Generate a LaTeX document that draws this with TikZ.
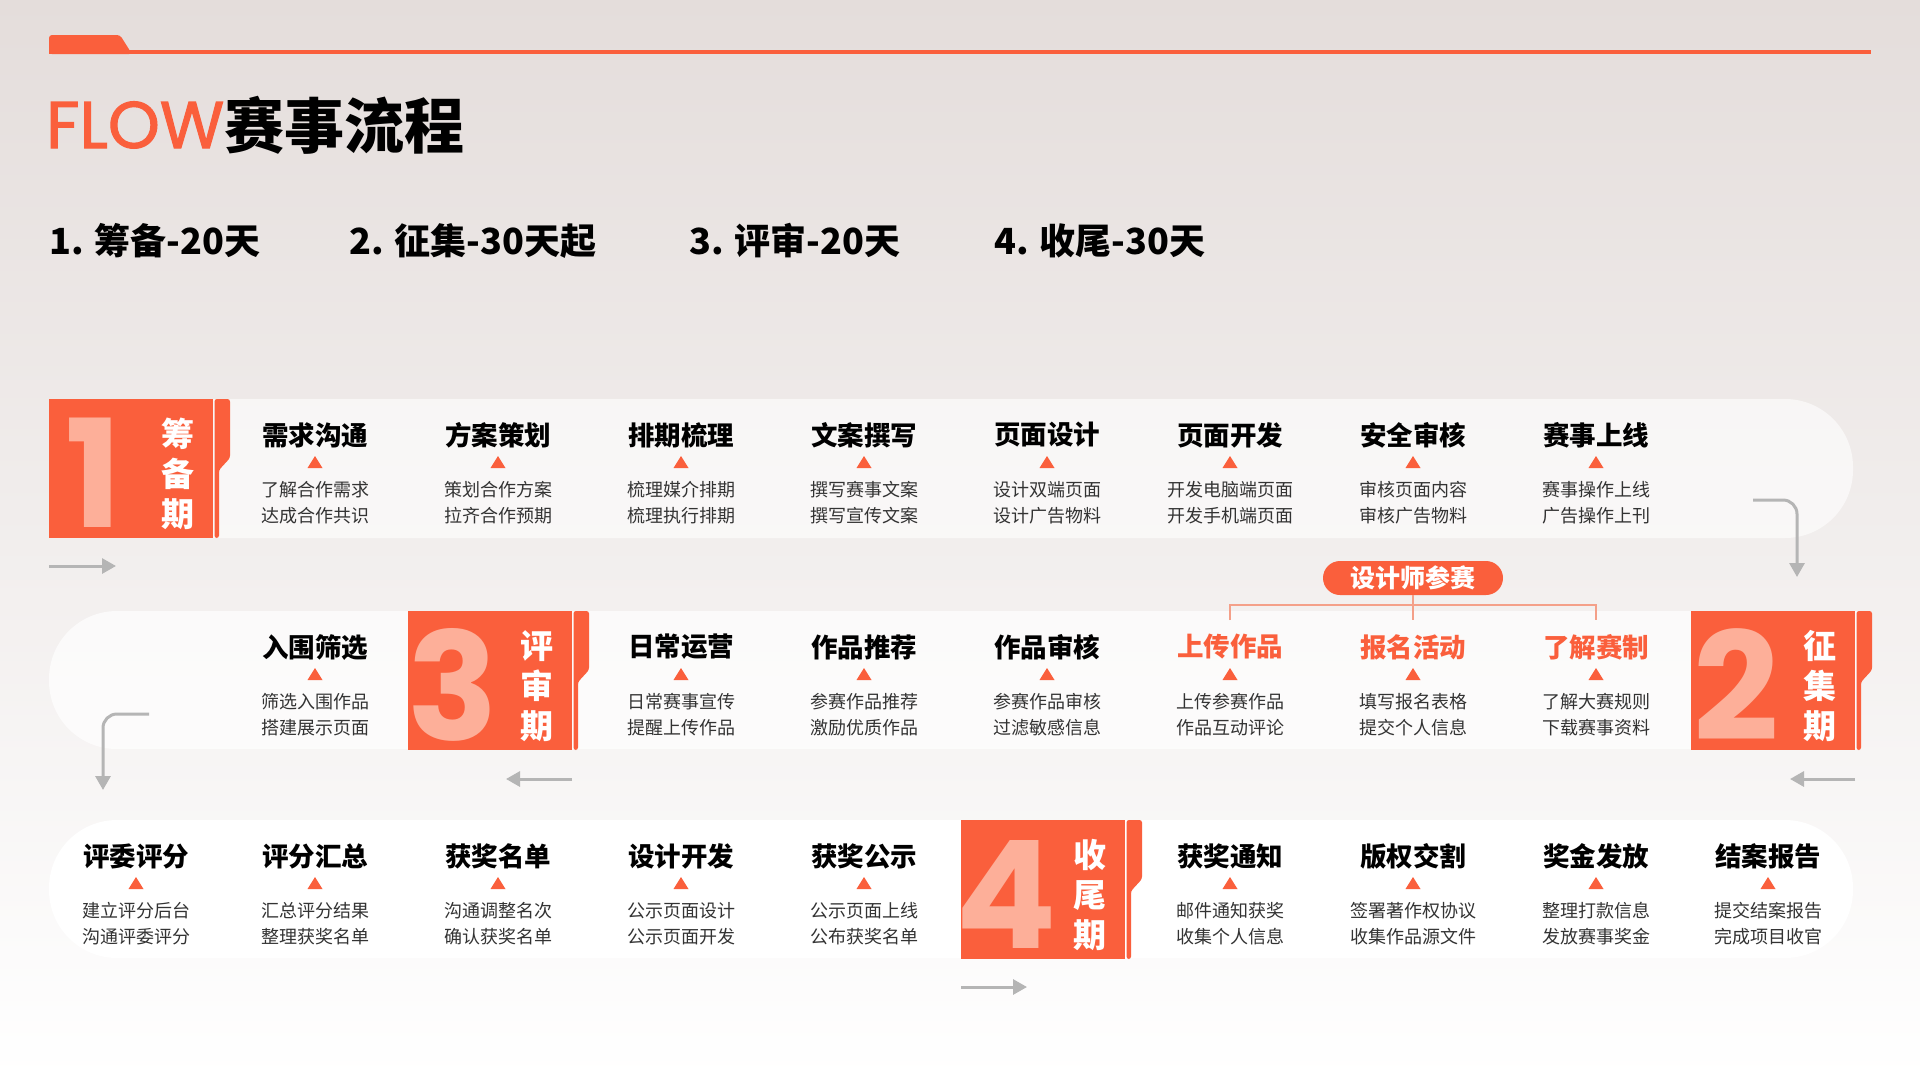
\documentclass[tikz,border=0pt]{standalone}
\usepackage{fontspec}
\setmainfont{Noto Sans CJK SC}
\newfontfamily\pop{Poppins}
\newfontfamily\popfb{Poppins}[FakeBold=1.6]
\usetikzlibrary{arrows.meta}
\definecolor{org}{HTML}{FA5F3C}
\definecolor{pale}{HTML}{FDAF99}
\definecolor{arrg}{HTML}{B5B5B5}
\definecolor{dsc}{HTML}{333333}
\definecolor{brk}{HTML}{F4A089}
\definecolor{bgtop}{HTML}{E4DDDB}
\definecolor{bgmid}{HTML}{EEEDED}
\tikzset{
  ttl/.style={inner sep=0pt, font=\bfseries\fontsize{26.5}{30}\selectfont},
  dtx/.style={inner sep=0pt, align=center, text=dsc, font=\fontsize{18}{26}\selectfont},
  num/.style={inner sep=0pt, text=pale, font=\pop\bfseries\fontsize{150}{150}\selectfont},
  vtx/.style={inner sep=0pt, align=center, text=white, font=\bfseries\fontsize{33}{40}\selectfont},
  arr/.style={draw=arrg, line width=3pt, -{Triangle[length=14pt,width=15pt]}},
  brkline/.style={draw=brk, line width=1.5pt},
  pill/.style={fill=org, text=white, rounded corners=17pt, minimum width=180pt, minimum height=34pt, inner sep=0pt, font=\bfseries\fontsize{25}{25}\selectfont},
  sub/.style={inner sep=0pt, anchor=base west, font=\bfseries\fontsize{36}{36}\selectfont}
}
% name, x, rowtop, title, d1, d2, colour
\newcommand\stepit[7]{%
  \node[ttl, text=#7] (#1) at (#2,#3+36) {#4};
  \fill[org] (#2-7.5,#3+69) -- (#2+7.5,#3+69) -- (#2,#3+57) -- cycle;
  \node[dtx] (#1d) at (#2,#3+103.5) {#5\\#6};
}
% name, x, y, numeral, vertical text
\newcommand\phasebox[5]{%
  \fill[org] (#2,#3) rectangle ++(164,139);
  \fill[org, rounded corners=2.5pt] (#2+165.5,#3) -- (#2+181,#3) -- (#2+181,#3+59) -- (#2+170,#3+71) -- (#2+170,#3+139) -- (#2+165.5,#3+139) -- cycle;
  \node[num] (#1n) at (#2+45,#3+74) {#4};
  \node[vtx] (#1v) at (#2+129,#3+75) {#5};
}
\begin{document}
\begin{tikzpicture}[x=1pt,y=-1pt]
\useasboundingbox (0,0) rectangle (1920,1080);
\shade[top color=bgtop, middle color=bgmid, bottom color=white] (0,0) rectangle (1920,1080);

% top bar
\fill[org] (49,50) rectangle (1871,54);
\fill[org, rounded corners=3pt] (49,54) -- (49,35) -- (120,35) -- (132,54) -- cycle;

% title
\node[inner sep=0pt, anchor=base west, text=org, font=\popfb\fontsize{66}{66}\selectfont] (flow) at (46,148) {FLOW};
\node[inner sep=0pt, anchor=base west, font=\bfseries\fontsize{60}{60}\selectfont] (title) at (flow.base east) {赛事流程};

% phases summary
\node[sub] (s1) at (49,254) {1. 筹备-20天};
\node[sub] (s2) at (349,254) {2. 征集-30天起};
\node[sub] (s3) at (689,254) {3. 评审-20天};
\node[sub] (s4) at (994,254) {4. 收尾-30天};

% bands
\fill[white, fill opacity=.6] (49,399) rectangle (300,538) [rounded corners=68pt] (120,399) rectangle (1853,538);
\fill[white, fill opacity=.7] (1700,611) rectangle (1860,749) [rounded corners=68pt] (49,611) rectangle (1860,749);
\fill[white] (49,820) [rounded corners=68pt] rectangle (1853,958);

% phase blocks
\phasebox{p1}{49}{399}{1}{筹\\备\\期}
\phasebox{p3}{408}{611}{3}{评\\审\\期}
\phasebox{p2}{1691}{611}{2}{征\\集\\期}
\phasebox{p4}{961}{820}{4}{收\\尾\\期}

% row 1
\stepit{a1}{315}{399}{需求沟通}{了解合作需求}{达成合作共识}{black}
\stepit{a2}{498}{399}{方案策划}{策划合作方案}{拉齐合作预期}{black}
\stepit{a3}{681}{399}{排期梳理}{梳理媒介排期}{梳理执行排期}{black}
\stepit{a4}{864}{399}{文案撰写}{撰写赛事文案}{撰写宣传文案}{black}
\stepit{a5}{1047}{399}{页面设计}{设计双端页面}{设计广告物料}{black}
\stepit{a6}{1230}{399}{页面开发}{开发电脑端页面}{开发手机端页面}{black}
\stepit{a7}{1413}{399}{安全审核}{审核页面内容}{审核广告物料}{black}
\stepit{a8}{1596}{399}{赛事上线}{赛事操作上线}{广告操作上刊}{black}

% row 2
\stepit{b1}{315}{611}{入围筛选}{筛选入围作品}{搭建展示页面}{black}
\stepit{b2}{681}{611}{日常运营}{日常赛事宣传}{提醒上传作品}{black}
\stepit{b3}{864}{611}{作品推荐}{参赛作品推荐}{激励优质作品}{black}
\stepit{b4}{1047}{611}{作品审核}{参赛作品审核}{过滤敏感信息}{black}
\stepit{b5}{1230}{611}{上传作品}{上传参赛作品}{作品互动评论}{org}
\stepit{b6}{1413}{611}{报名活动}{填写报名表格}{提交个人信息}{org}
\stepit{b7}{1596}{611}{了解赛制}{了解大赛规则}{下载赛事资料}{org}

% row 3
\stepit{c1}{136}{820}{评委评分}{建立评分后台}{沟通评委评分}{black}
\stepit{c2}{315}{820}{评分汇总}{汇总评分结果}{整理获奖名单}{black}
\stepit{c3}{498}{820}{获奖名单}{沟通调整名次}{确认获奖名单}{black}
\stepit{c4}{681}{820}{设计开发}{公示页面设计}{公示页面开发}{black}
\stepit{c5}{864}{820}{获奖公示}{公示页面上线}{公布获奖名单}{black}
\stepit{c6}{1230}{820}{获奖通知}{邮件通知获奖}{收集个人信息}{black}
\stepit{c7}{1413}{820}{版权交割}{签署著作权协议}{收集作品源文件}{black}
\stepit{c8}{1596}{820}{奖金发放}{整理打款信息}{发放赛事奖金}{black}
\stepit{c9}{1768}{820}{结案报告}{提交结案报告}{完成项目收官}{black}

% designer pill and bracket
\node[pill] (pill) at (1413,578) {设计师参赛};
\coordinate (bl) at (1230,620);
\coordinate (blt) at (1230,605);
\coordinate (brt) at (1596,605);
\coordinate (br) at (1596,620);
\coordinate (bm) at (1413,620);
\draw[brkline] (bl) -- (blt) -- (brt) -- (br);
\draw[brkline] (pill.south) -- (bm);

% flow arrows
\coordinate (a1s) at (49,566);   \coordinate (a1e) at (116,566);
\coordinate (a2s) at (1753,500); \coordinate (a2e) at (1797,577);
\coordinate (a3s) at (1855,779); \coordinate (a3e) at (1790,779);
\coordinate (a4s) at (572,779);  \coordinate (a4e) at (506,779);
\coordinate (a5s) at (149,714);  \coordinate (a5e) at (103,790);
\coordinate (a6s) at (961,987);  \coordinate (a6e) at (1027,987);
\draw[arr] (a1s) -- (a1e);
\draw[arr, rounded corners=14pt] (a2s) -| (a2e);
\draw[arr] (a3s) -- (a3e);
\draw[arr] (a4s) -- (a4e);
\draw[arr, rounded corners=14pt] (a5s) -| (a5e);
\draw[arr] (a6s) -- (a6e);
\end{tikzpicture}
\end{document}
